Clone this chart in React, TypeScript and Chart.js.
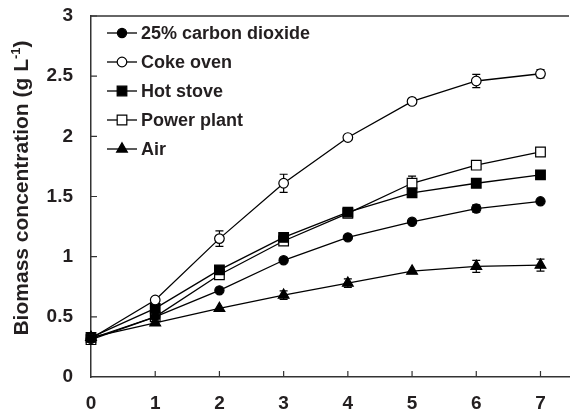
import React, { useEffect, useRef } from 'react';
import { Chart, registerables } from 'chart.js';

Chart.register(...registerables);

// ---- data ----
const days = [0, 1, 2, 3, 4, 5, 6, 7];
const seriesNames = ['25% carbon dioxide', 'Coke oven', 'Hot stove', 'Power plant', 'Air'];

const co2Values = [0.32, 0.50, 0.72, 0.97, 1.16, 1.29, 1.40, 1.46];
const cokeOvenValues = [0.32, 0.64, 1.15, 1.61, 1.99, 2.29, 2.46, 2.52];
const hotStoveValues = [0.33, 0.57, 0.89, 1.16, 1.37, 1.53, 1.61, 1.68];
const powerPlantValues = [0.31, 0.50, 0.85, 1.13, 1.36, 1.61, 1.76, 1.87];
const airValues = [0.33, 0.45, 0.57, 0.68, 0.78, 0.88, 0.92, 0.93];

const co2Errors = [0, 0, 0, 0, 0, 0, 0.03, 0];
const cokeOvenErrors = [0, 0.02, 0.065, 0.075, 0, 0, 0.055, 0.035];
const hotStoveErrors = [0, 0, 0, 0, 0.015, 0.02, 0, 0];
const powerPlantErrors = [0, 0, 0, 0, 0.02, 0.06, 0, 0];
const airErrors = [0, 0, 0, 0.035, 0.035, 0, 0.05, 0.05];

const yTitle = 'Biomass concentration (g L';
const yTitleSup = '-1';
const yTitleEnd = ')';

// ---- styles ----
const FONT = '"Liberation Sans", Arial, Helvetica, sans-serif';
const INK = '#231f20';
const AXIS = '#333333';

type MarkerStyle = 'circle' | 'rect' | 'triangle';
const markerStyles: MarkerStyle[] = ['circle', 'circle', 'rect', 'rect', 'triangle'];
const markerFilled = [true, false, true, false, true];
const markerRadius = [4.6, 4.8, 6.8, 6.8, 6.2];

const allValues = [co2Values, cokeOvenValues, hotStoveValues, powerPlantValues, airValues];
const allErrors = [co2Errors, cokeOvenErrors, hotStoveErrors, powerPlantErrors, airErrors];

function drawMarker(ctx: CanvasRenderingContext2D, style: MarkerStyle, filled: boolean, r: number, x: number, y: number) {
  ctx.save();
  ctx.beginPath();
  if (style === 'circle') {
    ctx.arc(x, y, r, 0, Math.PI * 2);
  } else if (style === 'rect') {
    const s = Math.SQRT1_2 * r;
    ctx.rect(x - s, y - s, 2 * s, 2 * s);
  } else {
    const a = (2 * Math.PI) / 3;
    ctx.moveTo(x, y - r);
    ctx.lineTo(x + Math.sin(a) * r, y - Math.cos(a) * r);
    ctx.lineTo(x + Math.sin(2 * a) * r, y - Math.cos(2 * a) * r);
    ctx.closePath();
  }
  ctx.fillStyle = filled ? '#000' : '#fff';
  ctx.fill();
  ctx.lineWidth = 1.2;
  ctx.strokeStyle = '#000';
  ctx.stroke();
  ctx.restore();
}

const decorPlugin = {
  id: 'decor',
  beforeDatasetsDraw(chart: any) {
    const ctx: CanvasRenderingContext2D = chart.ctx;
    const xs = chart.scales.x;
    const ys = chart.scales.y;
    ctx.save();
    ctx.strokeStyle = '#000';
    ctx.lineWidth = 1.2;
    allErrors.forEach((errs, i) => {
      errs.forEach((e, j) => {
        if (!e) return;
        const v = allValues[i][j];
        const x = xs.getPixelForValue(days[j]);
        const yt = ys.getPixelForValue(v + e);
        const yb = ys.getPixelForValue(v - e);
        ctx.beginPath();
        ctx.moveTo(x, yt);
        ctx.lineTo(x, yb);
        ctx.moveTo(x - 4, yt);
        ctx.lineTo(x + 4, yt);
        ctx.moveTo(x - 4, yb);
        ctx.lineTo(x + 4, yb);
        ctx.stroke();
      });
    });
    ctx.restore();
  },
  afterDraw(chart: any) {
    const ctx: CanvasRenderingContext2D = chart.ctx;
    const area = chart.chartArea;
    const xs = chart.scales.x;
    const ys = chart.scales.y;
    ctx.save();
    // top frame line
    ctx.strokeStyle = AXIS;
    ctx.lineWidth = 1.5;
    ctx.beginPath();
    ctx.moveTo(area.left, area.top);
    ctx.lineTo(area.right, area.top);
    ctx.stroke();
    // inward ticks
    ctx.lineWidth = 1.2;
    ctx.beginPath();
    xs.ticks.forEach((t: any) => {
      const px = xs.getPixelForValue(t.value);
      if (Math.abs(px - area.left) < 1) return;
      ctx.moveTo(px, area.bottom);
      ctx.lineTo(px, area.bottom - 6);
    });
    ys.ticks.forEach((t: any) => {
      const py = ys.getPixelForValue(t.value);
      if (Math.abs(py - area.bottom) < 1) return;
      ctx.moveTo(area.left, py);
      ctx.lineTo(area.left + 6, py);
    });
    ctx.stroke();

    // legend
    const lx0 = 107, lx1 = 137, tx = 141, ly0 = 33, dy = 29;
    ctx.font = `bold 18px ${FONT}`;
    ctx.textBaseline = 'middle';
    ctx.textAlign = 'left';
    seriesNames.forEach((name, i) => {
      const y = ly0 + i * dy;
      ctx.strokeStyle = '#000';
      ctx.lineWidth = 1.3;
      ctx.beginPath();
      ctx.moveTo(lx0, y);
      ctx.lineTo(lx1, y);
      ctx.stroke();
      drawMarker(ctx, markerStyles[i], markerFilled[i], markerRadius[i], (lx0 + lx1) / 2, y);
      ctx.fillStyle = INK;
      ctx.fillText(name, tx, y + 1);
    });

    // y axis title with superscript
    ctx.translate(28, 188);
    ctx.rotate(-Math.PI / 2);
    ctx.fillStyle = INK;
    ctx.textBaseline = 'alphabetic';
    const mainFont = `bold 21px ${FONT}`;
    const supFont = `bold 13px ${FONT}`;
    ctx.font = mainFont;
    const w1 = ctx.measureText(yTitle).width;
    const w3 = ctx.measureText(yTitleEnd).width;
    ctx.font = supFont;
    const w2 = ctx.measureText(yTitleSup).width;
    const total = w1 + w2 + w3;
    let cx = -total / 2;
    ctx.font = mainFont;
    ctx.fillText(yTitle, cx, 0);
    cx += w1;
    ctx.font = supFont;
    ctx.fillText(yTitleSup, cx, -8);
    cx += w2;
    ctx.font = mainFont;
    ctx.fillText(yTitleEnd, cx, 0);
    ctx.restore();
  },
};

export default function App() {
  const ref = useRef<HTMLCanvasElement>(null);
  useEffect(() => {
    document.body.style.margin = '0';
    const datasets = allValues.map((vals, i) => ({
      label: seriesNames[i],
      data: vals.map((v, j) => ({ x: days[j], y: v })),
      borderColor: '#000',
      borderWidth: 1.3,
      pointStyle: markerStyles[i],
      pointRadius: markerRadius[i],
      pointBackgroundColor: markerFilled[i] ? '#000' : '#fff',
      pointBorderColor: '#000',
      pointBorderWidth: 1.2,
      fill: false,
      tension: 0,
      clip: false as any,
    }));
    const chart = new Chart(ref.current!, {
      type: 'line',
      data: { datasets },
      options: {
        animation: false,
        responsive: false,
        maintainAspectRatio: false,
        events: [],
        layout: { padding: { top: 16, left: 0, right: 0, bottom: 0 } },
        plugins: { legend: { display: false }, tooltip: { enabled: false }, title: { display: false } },
        scales: {
          x: {
            type: 'linear',
            min: 0,
            max: 7.444,
            grid: { display: false, drawTicks: false },
            border: { display: true, color: AXIS, width: 1.5 },
            ticks: {
              stepSize: 1,
              includeBounds: false,
              padding: 15,
              color: INK,
              font: { family: FONT, size: 19, weight: 'bold' },
            },
            afterFit: (s: any) => { s.height = 37; s.paddingLeft = 0; s.paddingRight = 0; },
          },
          y: {
            type: 'linear',
            min: 0,
            max: 3,
            grid: { display: false, drawTicks: false },
            border: { display: true, color: AXIS, width: 1.5 },
            ticks: {
              stepSize: 0.5,
              padding: 18,
              color: INK,
              font: { family: FONT, size: 19, weight: 'bold' },
              callback: (v: any) => String(Math.round(Number(v) * 10) / 10),
            },
            afterFit: (s: any) => { s.width = 91; s.paddingTop = 0; s.paddingBottom = 0; },
          },
        },
      } as any,
      plugins: [decorPlugin],
    });
    return () => chart.destroy();
  }, []);
  return (
    <div style={{ position: 'absolute', left: 0, top: 0, width: 577, height: 414, background: '#fff' }}>
      <canvas ref={ref} width={577} height={414} style={{ display: 'block' }} />
    </div>
  );
}
